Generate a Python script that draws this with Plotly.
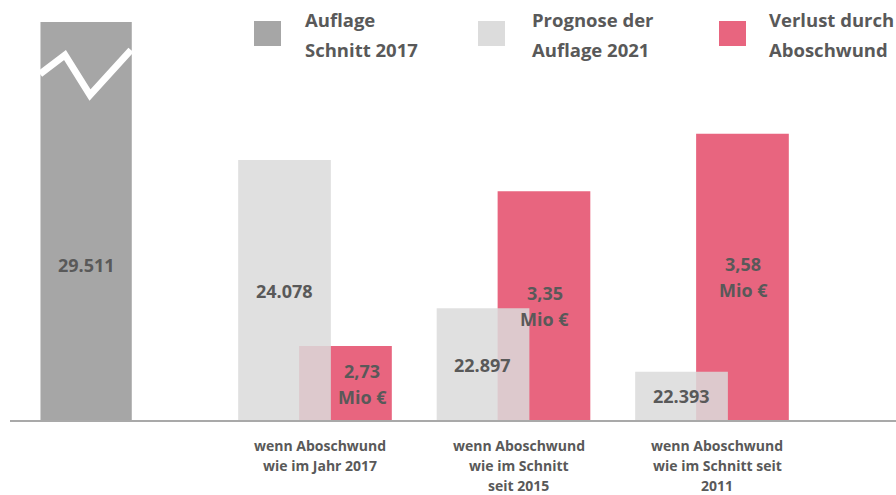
import plotly.graph_objects as go

# Werte aus der Grafik
auflage_2017 = 29511
szenarien = [
    "wenn Aboschwund<br>wie im Jahr 2017",
    "wenn Aboschwund<br>wie im Schnitt<br>seit 2015",
    "wenn Aboschwund<br>wie im Schnitt seit<br>2011",
]
prognose_2021 = [24078, 22897, 22393]
verlust_mio = [2.73, 3.35, 3.58]
legende = [
    ("Auflage", "Schnitt 2017"),
    ("Prognose der", "Auflage 2021"),
    ("Verlust durch", "Aboschwund"),
]

W, H = 896, 495
TOP, BOTTOM = 22, 421  # plot area in px

DUNKEL = "#a6a6a6"
HELL = "rgba(219,219,219,0.85)"
ROT = "#e8657f"
TEXT = "#595959"
FONT = "Open Sans"

pos = [1, 2, 3]
grau_range = [22000, 25177]   # achse beginnt nicht bei null
rot_range = [2.43, 4.028]


def px_x(p):
    return p / W


def px_y(p):
    return (BOTTOM - p) / (BOTTOM - TOP)


def de_int(v):
    return f"{v:,.0f}".replace(",", ".")


def de_dez(v):
    return f"{v:.2f}".replace(".", ",")


fig = go.Figure()

# rote Balken (untere Ebene)
fig.add_trace(go.Bar(
    x=pos, y=verlust_mio, yaxis="y",
    width=0.467, offset=-0.08,
    marker=dict(color=ROT, line_width=0),
    hoverinfo="skip", showlegend=False,
))

# Auflage 2017 (gebrochene Achse)
fig.add_trace(go.Bar(
    x=[0], y=[auflage_2017], yaxis="y2",
    width=0.46, offset=-0.383,
    marker=dict(color=DUNKEL, line_width=0),
    hoverinfo="skip", showlegend=False,
))

# Prognose 2021, halbtransparent über den roten Balken
fig.add_trace(go.Bar(
    x=pos, y=prognose_2021, yaxis="y2",
    width=0.467, offset=-0.387,
    marker=dict(color=HELL, line_width=0),
    hoverinfo="skip", showlegend=False,
))

lbl_font = dict(family=FONT, size=18, color=TEXT, weight="bold")
annotations = []

annotations.append(dict(
    x=0, xshift=-30, y=px_y(265), yref="paper", text=de_int(auflage_2017),
    showarrow=False, font=lbl_font,
))
for p, v in zip(pos, prognose_2021):
    annotations.append(dict(
        x=p, xshift=-31, y=(grau_range[0] + v) / 2, yref="y2", text=de_int(v),
        showarrow=False, font=lbl_font,
    ))
for i, (p, v) in enumerate(zip(pos, verlust_mio)):
    for txt, dy in [(de_dez(v), 13), ("Mio €", -13)]:
        annotations.append(dict(
            x=p, xshift=47 if i == 0 else 31, y=(rot_range[0] + v) / 2, yref="y",
            yshift=dy, text=txt, showarrow=False, font=lbl_font,
        ))

# Kategorien unter der Grundlinie, zeilenweise
cat_font = dict(family=FONT, size=14, color=TEXT, weight="bold")
for p, s in zip(pos, szenarien):
    for k, zeile in enumerate(s.split("<br>")):
        annotations.append(dict(
            x=p, xshift=5, y=0, yref="paper", yshift=-24 - 20 * k,
            yanchor="middle", text=zeile, showarrow=False, font=cat_font,
        ))

# Legende
leg_font = dict(family=FONT, size=18.5, color=TEXT, weight="bold")
leg_boxes = [(254, "#a6a6a6"), (478, "#dcdcdc"), (719, ROT)]
leg_text_x = [303, 530, 767]
shapes = []
for (bx, col), tx, (z1, z2) in zip(leg_boxes, leg_text_x, legende):
    shapes.append(dict(
        type="rect", xref="paper", yref="paper",
        x0=px_x(bx), x1=px_x(bx + 27), y0=px_y(46), y1=px_y(21),
        fillcolor=col, line_width=0,
    ))
    annotations.append(dict(
        x=px_x(tx), y=px_y(20), xref="paper", yref="paper", text=z1,
        xanchor="left", yanchor="middle", showarrow=False, font=leg_font,
    ))
    annotations.append(dict(
        x=px_x(tx), y=px_y(49), xref="paper", yref="paper", text=z2,
        xanchor="left", yanchor="middle", showarrow=False, font=leg_font,
    ))

# Achsenbruch-Zickzack
zz = [(40, 74), (65, 55), (90, 95), (131, 50)]
path = "M " + " L ".join(f"{px_x(a)},{px_y(b)}" for a, b in zz)
shapes.append(dict(
    type="path", xref="paper", yref="paper", path=path,
    line=dict(color="white", width=7), layer="above",
))

# Grundlinie
shapes.append(dict(
    type="line", xref="paper", yref="paper",
    x0=px_x(10), x1=1, y0=0, y1=0,
    line=dict(color="#a9a9a9", width=2),
))

fig.update_layout(
    width=W, height=H,
    margin=dict(l=0, r=0, t=TOP, b=H - BOTTOM),
    plot_bgcolor="white", paper_bgcolor="white",
    barmode="overlay",
    xaxis=dict(
        range=[1 - 315 / 198.5, 1 + 581 / 198.5],
        showticklabels=False,
        showgrid=False, zeroline=False, showline=False, ticks="",
    ),
    yaxis=dict(range=rot_range, visible=False),
    yaxis2=dict(range=grau_range, visible=False, overlaying="y"),
    shapes=shapes,
    annotations=annotations,
)

# Seitenrand des Browsers entfernen
fig.write_html(
    "out.html",
    config={"displayModeBar": False},
    post_script="document.body.style.margin='0';",
)
